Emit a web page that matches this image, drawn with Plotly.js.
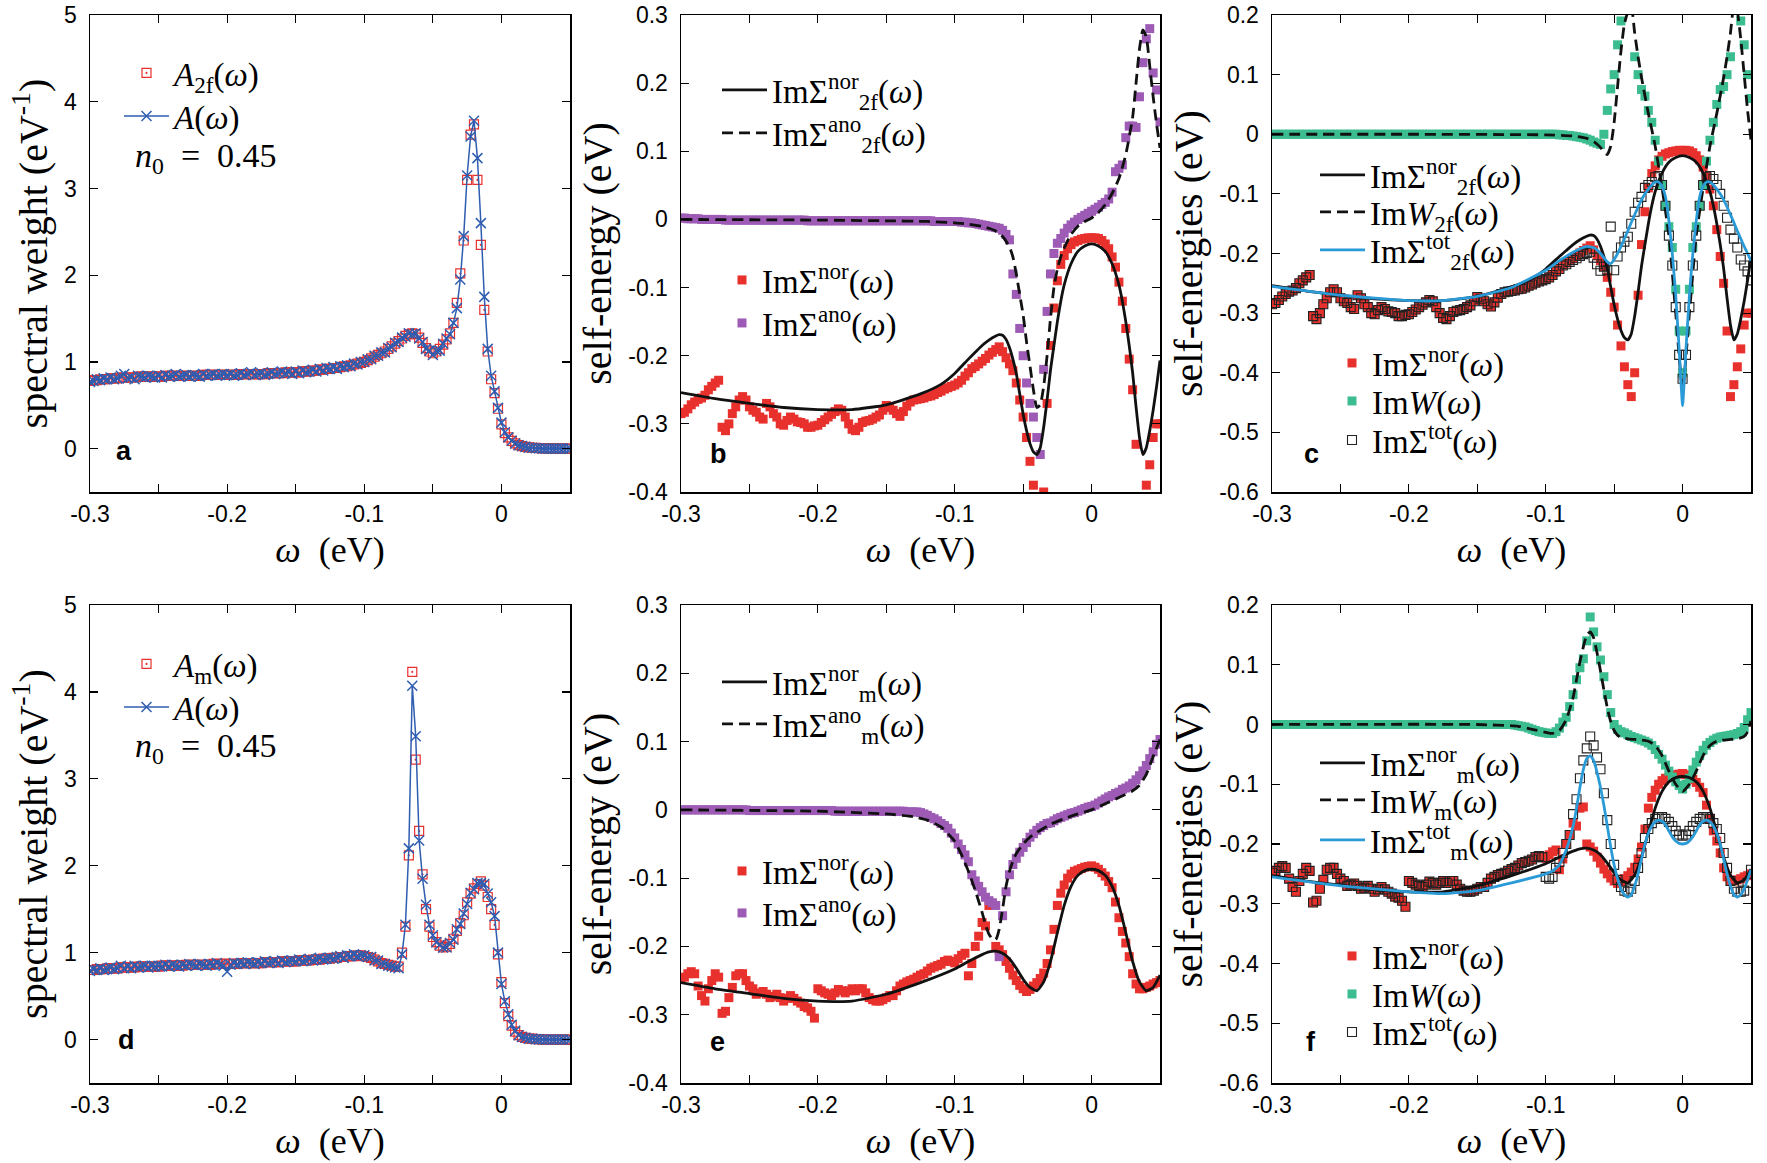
<!DOCTYPE html>
<html><head><meta charset="utf-8">
<script src="https://cdn.plot.ly/plotly-3.0.1.min.js"></script>
<style>html,body{margin:0;padding:0;background:#fff}#chart{width:1767px;height:1163px}</style>
</head><body><div id="chart"></div>
<script>
// ---------------- data ----------------
const omega = [
-0.3,-0.2975,-0.295,-0.2925,-0.29,-0.2875,-0.285,-0.2825,-0.28,-0.2775,
-0.275,-0.2725,-0.27,-0.2675,-0.265,-0.2625,-0.26,-0.2575,-0.255,-0.2525,
-0.25,-0.2475,-0.245,-0.2425,-0.24,-0.2375,-0.235,-0.2325,-0.23,-0.2275,
-0.225,-0.2225,-0.22,-0.2175,-0.215,-0.2125,-0.21,-0.2075,-0.205,-0.2025,
-0.2,-0.1975,-0.195,-0.1925,-0.19,-0.1875,-0.185,-0.1825,-0.18,-0.1775,
-0.175,-0.1725,-0.17,-0.1675,-0.165,-0.1625,-0.16,-0.1575,-0.155,-0.1525,
-0.15,-0.1475,-0.145,-0.1425,-0.14,-0.1375,-0.135,-0.1325,-0.13,-0.1275,
-0.125,-0.1225,-0.12,-0.1175,-0.115,-0.1125,-0.11,-0.1075,-0.105,-0.1025,
-0.1,-0.0975,-0.095,-0.0925,-0.09,-0.0875,-0.085,-0.0825,-0.08,-0.0775,
-0.075,-0.0725,-0.07,-0.0675,-0.065,-0.0625,-0.06,-0.0575,-0.055,-0.0525,
-0.05,-0.0475,-0.045,-0.0425,-0.04,-0.0375,-0.035,-0.0325,-0.03,-0.0275,
-0.025,-0.0225,-0.02,-0.0175,-0.015,-0.0125,-0.01,-0.0075,-0.005,-0.0025,
0,0.0025,0.005,0.0075,0.01,0.0125,0.015,0.0175,0.02,0.0225,
0.025,0.0275,0.03,0.0325,0.035,0.0375,0.04,0.0425,0.045,0.0475,
0.05];

const tickX = [-0.3,-0.2,-0.1,0];
const tickXText = ['-0.3','-0.2','-0.1','0'];
const tickXMinor = [-0.25,-0.15,-0.05];
const tickA = [0,1,2,3,4,5];
const tickAText = ['0','1','2','3','4','5'];
const tickB = [-0.4,-0.3,-0.2,-0.1,0,0.1,0.2,0.3];
const tickBText = ['-0.4','-0.3','-0.2','-0.1','0','0.1','0.2','0.3'];
const tickC = [-0.6,-0.5,-0.4,-0.3,-0.2,-0.1,0,0.1,0.2];
const tickCText = ['-0.6','-0.5','-0.4','-0.3','-0.2','-0.1','0','0.1','0.2'];

// panel a
const A2f = [
0.78,0.79,0.79,0.80,0.80,0.80,0.81,0.81,0.81,0.82,
0.82,0.82,0.82,0.82,0.83,0.83,0.83,0.83,0.83,0.83,
0.83,0.83,0.84,0.84,0.84,0.84,0.84,0.84,0.84,0.84,
0.84,0.84,0.84,0.85,0.85,0.85,0.85,0.85,0.85,0.85,
0.85,0.85,0.85,0.85,0.86,0.86,0.86,0.86,0.86,0.86,
0.86,0.86,0.87,0.87,0.87,0.87,0.87,0.88,0.88,0.88,
0.88,0.88,0.89,0.89,0.89,0.90,0.90,0.91,0.91,0.92,
0.92,0.93,0.93,0.94,0.95,0.95,0.96,0.97,0.98,0.99,
1.00,1.02,1.04,1.06,1.08,1.10,1.12,1.15,1.18,1.21,
1.24,1.27,1.30,1.32,1.33,1.32,1.28,1.22,1.16,1.12,
1.10,1.12,1.15,1.20,1.26,1.33,1.45,1.68,2.02,2.40,
3.10,3.62,3.74,3.10,2.35,1.60,1.12,0.80,0.64,0.46,
0.28,0.18,0.13,0.09,0.06,0.04,0.03,0.02,0.015,0.01,
0.01,0.005,0.004,0.003,0.002,0.002,0.001,0.001,0.001,0.0,
0.0];
const Aa = [
0.77,0.78,0.80,0.79,0.81,0.80,0.82,0.80,0.81,0.84,
0.86,0.81,0.82,0.80,0.84,0.83,0.82,0.84,0.83,0.82,
0.84,0.82,0.85,0.83,0.84,0.86,0.83,0.84,0.85,0.83,
0.85,0.84,0.83,0.86,0.84,0.85,0.86,0.84,0.85,0.86,
0.85,0.86,0.84,0.85,0.87,0.85,0.86,0.88,0.85,0.86,
0.87,0.85,0.86,0.88,0.86,0.87,0.89,0.87,0.88,0.86,
0.89,0.87,0.90,0.88,0.89,0.91,0.89,0.92,0.90,0.93,
0.92,0.94,0.92,0.95,0.94,0.96,0.95,0.98,0.97,1.00,
1.00,1.03,1.03,1.07,1.07,1.11,1.11,1.16,1.17,1.22,
1.23,1.28,1.29,1.33,1.32,1.33,1.27,1.23,1.15,1.13,
1.08,1.13,1.13,1.21,1.27,1.32,1.45,1.62,1.95,2.45,
3.15,3.60,3.78,3.35,2.60,1.75,1.15,0.84,0.66,0.47,
0.30,0.19,0.13,0.09,0.06,0.04,0.03,0.02,0.01,0.01,
0.005,0.005,0.0,0.0,0.0,0.0,0.0,0.0,0.0,0.0,
0.0];

// panel d
const Am = [
0.80,0.80,0.81,0.81,0.81,0.82,0.82,0.82,0.82,0.83,
0.83,0.83,0.83,0.83,0.84,0.84,0.84,0.84,0.84,0.84,
0.84,0.85,0.85,0.85,0.85,0.85,0.85,0.85,0.86,0.86,
0.86,0.86,0.86,0.86,0.86,0.86,0.87,0.87,0.87,0.87,
0.87,0.87,0.87,0.87,0.88,0.88,0.88,0.88,0.88,0.88,
0.88,0.89,0.89,0.89,0.89,0.89,0.90,0.90,0.90,0.90,
0.90,0.91,0.91,0.91,0.91,0.92,0.92,0.92,0.93,0.93,
0.93,0.94,0.94,0.95,0.95,0.96,0.96,0.96,0.97,0.97,
0.96,0.95,0.94,0.92,0.90,0.88,0.87,0.86,0.85,0.84,
0.84,1.00,1.30,2.12,4.23,3.22,2.40,1.90,1.50,1.30,
1.18,1.12,1.08,1.06,1.07,1.10,1.16,1.25,1.34,1.43,
1.58,1.68,1.74,1.79,1.82,1.77,1.64,1.50,1.32,0.98,
0.66,0.42,0.27,0.16,0.09,0.05,0.03,0.02,0.01,0.01,
0.005,0.005,0.0,0.0,0.0,0.0,0.0,0.0,0.0,0.0,
0.0];
const Ad = [
0.79,0.81,0.80,0.82,0.80,0.81,0.83,0.81,0.82,0.85,
0.82,0.84,0.82,0.85,0.83,0.84,0.85,0.83,0.85,0.84,
0.85,0.84,0.86,0.84,0.86,0.85,0.84,0.86,0.85,0.87,
0.86,0.85,0.87,0.86,0.85,0.87,0.86,0.88,0.86,0.85,
0.78,0.86,0.88,0.87,0.88,0.87,0.89,0.88,0.87,0.89,
0.88,0.90,0.88,0.89,0.90,0.88,0.91,0.89,0.90,0.91,
0.90,0.92,0.90,0.91,0.93,0.91,0.92,0.94,0.92,0.93,
0.94,0.93,0.95,0.96,0.94,0.97,0.96,0.98,0.96,0.97,
0.97,0.95,0.95,0.91,0.91,0.87,0.87,0.85,0.84,0.83,
0.82,0.98,1.32,2.20,4.07,3.49,2.29,1.85,1.55,1.32,
1.20,1.12,1.09,1.06,1.06,1.11,1.15,1.27,1.33,1.45,
1.56,1.69,1.73,1.80,1.80,1.79,1.68,1.58,1.42,1.00,
0.64,0.44,0.29,0.17,0.10,0.05,0.03,0.02,0.01,0.01,
0.005,0.0,0.0,0.0,0.0,0.0,0.0,0.0,0.0,0.0,
0.0];

// panels b, c (2f)
const imSigNor2f = [
-0.285,-0.283,-0.278,-0.272,-0.268,-0.264,-0.262,-0.258,-0.25,-0.245,
-0.24,-0.236,-0.305,-0.31,-0.3,-0.285,-0.275,-0.265,-0.26,-0.265,
-0.275,-0.28,-0.283,-0.29,-0.293,-0.27,-0.275,-0.285,-0.29,-0.3,
-0.302,-0.295,-0.29,-0.293,-0.297,-0.298,-0.3,-0.305,-0.305,-0.303,
-0.302,-0.298,-0.294,-0.29,-0.286,-0.282,-0.278,-0.28,-0.29,-0.3,
-0.308,-0.31,-0.305,-0.298,-0.296,-0.295,-0.293,-0.29,-0.287,-0.28,
-0.273,-0.276,-0.28,-0.285,-0.289,-0.282,-0.274,-0.268,-0.265,-0.264,
-0.263,-0.262,-0.26,-0.259,-0.257,-0.254,-0.252,-0.249,-0.247,-0.245,
-0.243,-0.24,-0.236,-0.23,-0.225,-0.219,-0.216,-0.212,-0.208,-0.204,
-0.199,-0.195,-0.191,-0.187,-0.194,-0.203,-0.212,-0.222,-0.24,-0.265,
-0.29,-0.32,-0.355,-0.39,-0.42,-0.44,-0.4,-0.27,-0.185,-0.13,
-0.09,-0.066,-0.053,-0.043,-0.037,-0.033,-0.031,-0.029,-0.028,-0.027,
-0.027,-0.027,-0.028,-0.031,-0.036,-0.043,-0.055,-0.07,-0.092,-0.12,
-0.16,-0.205,-0.25,-0.33,-0.44,-0.42,-0.39,-0.36,-0.32,-0.3,
-0.3];
const imSigAno2f = [
0.002,0.002,0.001,0.001,0.001,0.001,0.0,0.0,0.0,0.0,
0.0,0.0,0.0,-0.001,-0.001,-0.001,-0.001,-0.001,-0.001,-0.001,
-0.001,-0.001,-0.001,-0.001,-0.001,-0.001,-0.001,-0.001,-0.001,-0.001,
-0.001,-0.001,-0.001,-0.001,-0.001,-0.001,-0.001,-0.002,-0.002,-0.002,
-0.002,-0.002,-0.002,-0.002,-0.002,-0.002,-0.002,-0.002,-0.002,-0.002,
-0.002,-0.002,-0.002,-0.002,-0.002,-0.002,-0.002,-0.002,-0.002,-0.002,
-0.002,-0.002,-0.002,-0.002,-0.002,-0.002,-0.002,-0.002,-0.002,-0.002,
-0.002,-0.002,-0.002,-0.002,-0.003,-0.003,-0.003,-0.003,-0.003,-0.003,
-0.003,-0.003,-0.004,-0.004,-0.005,-0.005,-0.006,-0.007,-0.008,-0.009,
-0.01,-0.011,-0.012,-0.013,-0.016,-0.022,-0.03,-0.08,-0.11,-0.16,
-0.2,-0.24,-0.27,-0.29,-0.32,-0.345,-0.22,-0.135,-0.08,-0.05,
-0.035,-0.028,-0.02,-0.013,-0.008,-0.004,0.0,0.003,0.006,0.009,
0.012,0.015,0.018,0.022,0.025,0.03,0.04,0.07,0.075,0.08,
0.12,0.137,0.137,0.135,0.18,0.23,0.265,0.28,0.215,0.19,
0.143];
const imW2f = [
0,0,0,0,0,0,0,0,0,0,
0,0,0,0,0,0,0,0,0,0,
0,0,0,0,0,0,0,0,0,0,
0,0,0,0,0,0,0,0,0,0,
0,0,0,0,0,0,0,0,0,0,
0,0,0,0,0,0,0,0,0,0,
0,0,0,0,0,0,0,0,0,0,
0,0,0,0,0,0,0,0,0,0,
0,0,0,0,-0.001,-0.001,-0.002,-0.002,-0.003,-0.004,
-0.005,-0.006,-0.008,-0.01,-0.013,-0.015,-0.017,0.0,0.04,0.076,
0.1,0.15,0.19,0.24,0.26,0.22,0.13,0.1,0.075,0.064,
0.04,0.02,-0.01,-0.045,-0.085,-0.12,-0.155,-0.19,-0.26,-0.33,
-0.4,-0.33,-0.26,-0.19,-0.155,-0.12,-0.085,-0.045,-0.01,0.02,
0.05,0.075,0.08,0.1,0.13,0.22,0.26,0.19,0.15,0.1,
0.06];
const imSigTot2f = [
-0.285,-0.283,-0.278,-0.272,-0.268,-0.264,-0.262,-0.258,-0.25,-0.245,
-0.24,-0.236,-0.305,-0.31,-0.3,-0.285,-0.275,-0.265,-0.26,-0.265,
-0.275,-0.28,-0.283,-0.29,-0.293,-0.27,-0.275,-0.285,-0.29,-0.3,
-0.302,-0.295,-0.29,-0.293,-0.297,-0.298,-0.3,-0.305,-0.305,-0.303,
-0.302,-0.298,-0.294,-0.29,-0.286,-0.282,-0.278,-0.28,-0.29,-0.3,
-0.308,-0.31,-0.305,-0.298,-0.296,-0.295,-0.293,-0.29,-0.287,-0.28,
-0.273,-0.276,-0.28,-0.285,-0.289,-0.282,-0.274,-0.268,-0.265,-0.264,
-0.263,-0.262,-0.26,-0.259,-0.257,-0.254,-0.252,-0.249,-0.247,-0.245,
-0.243,-0.24,-0.236,-0.23,-0.226,-0.22,-0.218,-0.214,-0.211,-0.208,
-0.204,-0.201,-0.199,-0.197,-0.207,-0.218,-0.229,-0.222,-0.228,-0.155,
-0.228,-0.205,-0.19,-0.18,-0.172,-0.15,-0.13,-0.115,-0.105,-0.09,
-0.085,-0.08,-0.072,-0.07,-0.085,-0.12,-0.17,-0.22,-0.29,-0.37,
-0.41,-0.37,-0.29,-0.22,-0.17,-0.12,-0.085,-0.072,-0.07,-0.075,
-0.085,-0.1,-0.12,-0.14,-0.16,-0.175,-0.19,-0.21,-0.22,-0.23,
-0.245];

// panels e, f (m)
const imSigNorM = [
-0.248,-0.245,-0.24,-0.237,-0.24,-0.258,-0.272,-0.28,-0.262,-0.25,
-0.24,-0.245,-0.298,-0.295,-0.275,-0.26,-0.243,-0.24,-0.24,-0.25,
-0.258,-0.262,-0.27,-0.268,-0.266,-0.27,-0.275,-0.273,-0.27,-0.275,
-0.28,-0.276,-0.272,-0.276,-0.28,-0.283,-0.288,-0.29,-0.295,-0.305,
-0.262,-0.265,-0.268,-0.27,-0.272,-0.268,-0.263,-0.265,-0.268,-0.265,
-0.262,-0.265,-0.262,-0.262,-0.268,-0.275,-0.278,-0.28,-0.28,-0.278,
-0.275,-0.272,-0.272,-0.265,-0.258,-0.255,-0.252,-0.25,-0.248,-0.245,
-0.242,-0.24,-0.236,-0.232,-0.23,-0.228,-0.226,-0.222,-0.22,-0.222,
-0.224,-0.218,-0.213,-0.21,-0.243,-0.225,-0.2,-0.185,-0.165,-0.17,
-0.14,-0.138,-0.2,-0.205,-0.212,-0.222,-0.232,-0.242,-0.25,-0.257,
-0.262,-0.266,-0.263,-0.258,-0.253,-0.247,-0.239,-0.225,-0.205,-0.175,
-0.14,-0.122,-0.11,-0.1,-0.094,-0.09,-0.088,-0.086,-0.084,-0.083,
-0.082,-0.084,-0.087,-0.092,-0.097,-0.105,-0.114,-0.135,-0.158,-0.178,
-0.195,-0.215,-0.24,-0.255,-0.262,-0.262,-0.26,-0.258,-0.255,-0.253,
-0.25];
const imSigAnoM = [
0,0,0,0,0,0,0,0,0,0,
0,0,0,0,0,0,0,0,0,0,
-0.001,-0.001,-0.001,-0.001,-0.001,-0.001,-0.001,-0.001,-0.001,-0.001,
-0.001,-0.001,-0.001,-0.001,-0.001,-0.001,-0.001,-0.001,-0.001,-0.001,
-0.001,-0.001,-0.001,-0.001,-0.001,-0.002,-0.002,-0.002,-0.002,-0.002,
-0.002,-0.002,-0.002,-0.002,-0.002,-0.002,-0.002,-0.002,-0.002,-0.002,
-0.002,-0.002,-0.002,-0.002,-0.002,-0.002,-0.003,-0.003,-0.003,-0.003,
-0.004,-0.006,-0.008,-0.011,-0.013,-0.016,-0.02,-0.023,-0.027,-0.034,
-0.041,-0.05,-0.058,-0.066,-0.076,-0.095,-0.104,-0.112,-0.12,-0.128,
-0.133,-0.136,-0.14,-0.215,-0.155,-0.12,-0.095,-0.08,-0.071,-0.062,
-0.055,-0.048,-0.04,-0.035,-0.03,-0.026,-0.023,-0.02,-0.019,-0.016,
-0.013,-0.011,-0.009,-0.007,-0.005,-0.004,-0.002,0.0,0.002,0.004,
0.005,0.007,0.01,0.013,0.016,0.019,0.021,0.024,0.026,0.03,
0.032,0.035,0.039,0.044,0.05,0.057,0.065,0.075,0.085,0.096,
0.103];
const imWM = [
0,0,0,0,0,0,0,0,0,0,
0,0,0,0,0,0,0,0,0,0,
0,0,0,0,0,0,0,0,0,0,
0,0,0,0,0,0,0,0,0,0,
0,0,0,0,0,0,0,0,0,0,
0,0,0,0,0,0,0,0,0,0,
0,0,0,0,0,0,0,0,0,0,
0.0,-0.001,-0.002,-0.003,-0.004,-0.006,-0.008,-0.01,-0.012,-0.013,
-0.014,-0.015,-0.015,-0.012,-0.006,0.004,0.012,0.03,0.05,0.075,
0.095,0.11,0.14,0.18,0.155,0.13,0.108,0.08,0.05,0.02,
0.0,-0.008,-0.012,-0.014,-0.017,-0.02,-0.022,-0.024,-0.026,-0.028,
-0.031,-0.035,-0.042,-0.05,-0.058,-0.068,-0.078,-0.088,-0.096,-0.102,
-0.108,-0.1,-0.09,-0.076,-0.063,-0.052,-0.043,-0.035,-0.03,-0.026,
-0.023,-0.021,-0.02,-0.019,-0.018,-0.017,-0.015,-0.012,-0.005,0.008,
0.02];
const imSigTotM = [
-0.248,-0.245,-0.24,-0.237,-0.24,-0.258,-0.272,-0.28,-0.262,-0.25,
-0.24,-0.245,-0.298,-0.295,-0.275,-0.26,-0.243,-0.24,-0.24,-0.25,
-0.258,-0.262,-0.27,-0.268,-0.266,-0.27,-0.275,-0.273,-0.27,-0.275,
-0.28,-0.276,-0.272,-0.276,-0.28,-0.283,-0.288,-0.29,-0.295,-0.305,
-0.262,-0.265,-0.268,-0.27,-0.272,-0.268,-0.263,-0.265,-0.268,-0.265,
-0.262,-0.265,-0.262,-0.262,-0.268,-0.275,-0.278,-0.28,-0.28,-0.278,
-0.275,-0.272,-0.272,-0.265,-0.258,-0.255,-0.252,-0.25,-0.248,-0.245,
-0.242,-0.24,-0.236,-0.232,-0.23,-0.228,-0.226,-0.222,-0.22,-0.222,
-0.255,-0.258,-0.255,-0.24,-0.23,-0.215,-0.2,-0.185,-0.15,-0.125,
-0.09,-0.06,-0.04,-0.02,-0.035,-0.055,-0.075,-0.115,-0.16,-0.2,
-0.235,-0.26,-0.272,-0.278,-0.28,-0.275,-0.262,-0.24,-0.215,-0.19,
-0.175,-0.165,-0.158,-0.155,-0.155,-0.158,-0.163,-0.17,-0.178,-0.184,
-0.186,-0.184,-0.178,-0.17,-0.163,-0.158,-0.155,-0.155,-0.158,-0.165,
-0.175,-0.19,-0.215,-0.24,-0.262,-0.275,-0.28,-0.28,-0.278,-0.265,
-0.243];

// theory curves
const lineNor2fX = [-0.3,-0.275,-0.25,-0.225,-0.2,-0.175,-0.15,-0.125,-0.11,-0.1,-0.09,-0.085,-0.08,-0.075,-0.07,-0.0675,-0.065,-0.0625,-0.06,-0.0575,-0.055,-0.0525,-0.05,-0.0475,-0.045,-0.0425,-0.04,-0.0375,-0.035,-0.0325,-0.03,-0.0275,-0.025,-0.0225,-0.02,-0.015,-0.01,-0.005,0,0.005,0.01,0.015,0.02,0.0225,0.025,0.0275,0.03,0.0325,0.035,0.0375,0.04,0.0425,0.045,0.0475,0.05];
const lineNor2fY = [-0.254,-0.263,-0.27,-0.276,-0.279,-0.279,-0.272,-0.256,-0.242,-0.226,-0.205,-0.195,-0.185,-0.177,-0.171,-0.169,-0.17,-0.176,-0.188,-0.205,-0.226,-0.256,-0.286,-0.31,-0.329,-0.341,-0.345,-0.335,-0.305,-0.265,-0.221,-0.185,-0.15,-0.12,-0.096,-0.065,-0.047,-0.039,-0.036,-0.039,-0.047,-0.065,-0.096,-0.12,-0.15,-0.185,-0.225,-0.275,-0.32,-0.345,-0.335,-0.31,-0.28,-0.245,-0.207];
const lineAno2fX = [-0.3,-0.2,-0.15,-0.12,-0.1,-0.09,-0.08,-0.075,-0.07,-0.065,-0.06,-0.0575,-0.055,-0.0525,-0.05,-0.0475,-0.045,-0.0425,-0.04,-0.0375,-0.035,-0.0325,-0.03,-0.0275,-0.025,-0.0225,-0.02,-0.015,-0.01,-0.005,0,0.005,0.01,0.015,0.02,0.025,0.03,0.0325,0.035,0.0375,0.04,0.0425,0.045,0.0475,0.05];
const lineAno2fY = [0,-0.001,-0.002,-0.003,-0.005,-0.007,-0.01,-0.013,-0.017,-0.025,-0.04,-0.055,-0.08,-0.11,-0.14,-0.18,-0.215,-0.25,-0.276,-0.272,-0.245,-0.2,-0.145,-0.1,-0.073,-0.055,-0.042,-0.022,-0.01,-0.003,0.002,0.01,0.022,0.038,0.06,0.095,0.15,0.2,0.25,0.278,0.268,0.225,0.18,0.14,0.105];
const lineW2fX = [-0.3,-0.2,-0.1,-0.08,-0.07,-0.065,-0.06,-0.0575,-0.055,-0.0525,-0.05,-0.0475,-0.045,-0.0425,-0.04,-0.0375,-0.035,-0.0325,-0.03,-0.025,-0.02,-0.015,-0.01,-0.005,0,0.005,0.01,0.015,0.02,0.025,0.03,0.0325,0.035,0.0375,0.04,0.0425,0.045,0.0475,0.05];
const lineW2fY = [0,0,-0.001,-0.003,-0.007,-0.012,-0.022,-0.03,-0.034,-0.02,0.02,0.08,0.14,0.185,0.205,0.215,0.17,0.13,0.095,0.035,-0.02,-0.09,-0.17,-0.3,-0.43,-0.3,-0.17,-0.09,-0.02,0.035,0.095,0.13,0.17,0.215,0.205,0.16,0.1,0.04,-0.01];
const lineTot2fX = [-0.3,-0.25,-0.2,-0.175,-0.15,-0.125,-0.1,-0.09,-0.08,-0.075,-0.07,-0.065,-0.0625,-0.06,-0.0575,-0.055,-0.0525,-0.05,-0.0475,-0.045,-0.0425,-0.04,-0.0375,-0.035,-0.0325,-0.03,-0.0275,-0.025,-0.0225,-0.02,-0.0175,-0.015,-0.0125,-0.01,-0.0075,-0.005,-0.0025,0,0.0025,0.005,0.0075,0.01,0.0125,0.015,0.0175,0.02,0.0225,0.025,0.0275,0.03,0.0325,0.035,0.0375,0.04,0.0425,0.045,0.0475,0.05];
const lineTot2fY = [-0.255,-0.27,-0.279,-0.279,-0.272,-0.257,-0.228,-0.212,-0.198,-0.192,-0.188,-0.19,-0.194,-0.2,-0.207,-0.214,-0.217,-0.21,-0.2,-0.188,-0.175,-0.162,-0.148,-0.135,-0.122,-0.11,-0.1,-0.092,-0.085,-0.08,-0.08,-0.087,-0.105,-0.145,-0.2,-0.27,-0.36,-0.455,-0.36,-0.27,-0.2,-0.145,-0.105,-0.087,-0.08,-0.08,-0.085,-0.092,-0.1,-0.11,-0.122,-0.135,-0.148,-0.162,-0.175,-0.188,-0.2,-0.212];
const lineNorMX = [-0.3,-0.275,-0.25,-0.225,-0.2,-0.175,-0.15,-0.125,-0.1,-0.09,-0.08,-0.075,-0.07,-0.065,-0.06,-0.055,-0.05,-0.045,-0.04,-0.035,-0.03,-0.025,-0.02,-0.015,-0.01,-0.005,0,0.005,0.01,0.015,0.02,0.025,0.03,0.035,0.04,0.045,0.05];
const lineNorMY = [-0.253,-0.262,-0.269,-0.276,-0.28,-0.28,-0.27,-0.253,-0.233,-0.222,-0.212,-0.208,-0.207,-0.21,-0.218,-0.232,-0.248,-0.26,-0.265,-0.252,-0.222,-0.18,-0.14,-0.112,-0.096,-0.089,-0.087,-0.089,-0.096,-0.112,-0.14,-0.18,-0.222,-0.252,-0.265,-0.26,-0.242];
const lineAnoMX = [-0.3,-0.2,-0.15,-0.13,-0.12,-0.11,-0.1,-0.095,-0.09,-0.085,-0.08,-0.0775,-0.075,-0.0725,-0.07,-0.0675,-0.065,-0.0625,-0.06,-0.0575,-0.055,-0.05,-0.045,-0.04,-0.035,-0.03,-0.02,-0.01,0,0.01,0.02,0.03,0.035,0.04,0.045,0.05];
const lineAnoMY = [0,-0.002,-0.006,-0.01,-0.015,-0.025,-0.046,-0.066,-0.09,-0.118,-0.15,-0.168,-0.182,-0.189,-0.19,-0.175,-0.145,-0.112,-0.09,-0.075,-0.064,-0.05,-0.04,-0.033,-0.027,-0.021,-0.013,-0.006,0,0.009,0.018,0.028,0.036,0.052,0.078,0.103];
const lineWMX = [-0.3,-0.15,-0.12,-0.11,-0.1,-0.095,-0.09,-0.085,-0.08,-0.0775,-0.075,-0.0725,-0.07,-0.0675,-0.065,-0.0625,-0.06,-0.0575,-0.055,-0.0525,-0.05,-0.0475,-0.045,-0.04,-0.035,-0.03,-0.025,-0.02,-0.015,-0.01,-0.005,0,0.005,0.01,0.015,0.02,0.025,0.03,0.035,0.04,0.045,0.0475,0.05];
const lineWMY = [0,0,-0.003,-0.008,-0.013,-0.015,-0.01,0.008,0.045,0.075,0.105,0.13,0.15,0.155,0.145,0.12,0.09,0.058,0.028,0.005,-0.01,-0.018,-0.022,-0.024,-0.025,-0.026,-0.028,-0.035,-0.052,-0.078,-0.1,-0.112,-0.1,-0.078,-0.052,-0.035,-0.028,-0.026,-0.025,-0.024,-0.02,-0.012,0.006];
const lineTotMX = [-0.3,-0.25,-0.2,-0.175,-0.15,-0.125,-0.1,-0.095,-0.09,-0.085,-0.08,-0.0775,-0.075,-0.0725,-0.07,-0.0675,-0.065,-0.0625,-0.06,-0.0575,-0.055,-0.0525,-0.05,-0.0475,-0.045,-0.0425,-0.04,-0.0375,-0.035,-0.0325,-0.03,-0.0275,-0.025,-0.0225,-0.02,-0.0175,-0.015,-0.0125,-0.01,-0.0075,-0.005,-0.0025,0,0.0025,0.005,0.0075,0.01,0.0125,0.015,0.0175,0.02,0.0225,0.025,0.0275,0.03,0.0325,0.035,0.0375,0.04,0.0425,0.045,0.0475,0.05];
const lineTotMY = [-0.255,-0.27,-0.28,-0.283,-0.278,-0.265,-0.25,-0.245,-0.235,-0.21,-0.17,-0.14,-0.105,-0.075,-0.057,-0.052,-0.06,-0.08,-0.105,-0.135,-0.17,-0.205,-0.235,-0.258,-0.275,-0.285,-0.289,-0.285,-0.27,-0.25,-0.225,-0.2,-0.182,-0.17,-0.163,-0.16,-0.162,-0.168,-0.178,-0.188,-0.195,-0.199,-0.2,-0.199,-0.195,-0.188,-0.178,-0.168,-0.162,-0.16,-0.163,-0.17,-0.182,-0.2,-0.225,-0.25,-0.27,-0.285,-0.289,-0.285,-0.275,-0.26,-0.243];

// ---------------- style ----------------
const RED = '#e8312d', PURPLE = '#9d5bb5', GREEN = '#3cbd90', SKY = '#2b9bd8', NAVY = '#2f5db0', BLACK = '#111';
const W = 1767, H = 1163;
const px = v => v / W, py = v => 1 - v / H;
const SERIF = 'Liberation Serif, Times New Roman, serif';
const SANS = 'Liberation Sans, Arial, sans-serif';

function xax(dom, anchor) {
  return {domain: dom, anchor: anchor, range: [-0.3, 0.05], tickmode: 'array', tickvals: tickX, ticktext: tickXText,
    ticks: 'inside', ticklen: 8, tickwidth: 1.2, tickcolor: '#000', showline: true, linecolor: '#000', linewidth: 1.5,
    mirror: 'ticks', showgrid: false, zeroline: false, ticklabelstandoff: 1,
    minor: {tickmode: 'array', tickvals: tickXMinor, ticks: 'inside', ticklen: 8, tickwidth: 1.2, tickcolor: '#000', showgrid: false},
    tickfont: {family: SANS, size: 23, color: '#000'},
    title: {text: '<i>ω</i>\u2002(eV)', font: {family: SERIF, size: 36, color: '#000'}, standoff: 10}};
}
function yax(dom, anchor, range, vals, text, title) {
  return {domain: dom, anchor: anchor, range: range, tickmode: 'array', tickvals: vals, ticktext: text,
    ticks: 'inside', ticklen: 8, tickwidth: 1.2, tickcolor: '#000', showline: true, linecolor: '#000', linewidth: 1.5,
    mirror: 'ticks', showgrid: false, zeroline: false, ticklabelstandoff: 7,
    tickfont: {family: SANS, size: 23, color: '#000'},
    title: {text: title, font: {family: SERIF, size: 40, color: '#000'}, standoff: 4}};
}

const traces = [];
const legends = {};
let legendCount = 0;
// each legend entry gets its own legend box so that rows can be placed like the original
function add(base, extra, cx, cy, wide) {
  legendCount += 1;
  const key = legendCount === 1 ? 'legend' : 'legend' + legendCount;
  const iw = wide ? 45 : 30;
  legends[key] = {x: px(cx - (wide ? 27 : 20)), y: py(cy), xanchor: 'left', yanchor: 'middle',
    bgcolor: 'rgba(0,0,0,0)', borderwidth: 0, font: {family: SERIF, size: 33, color: '#000'},
    itemwidth: iw, tracegroupgap: 0};
  traces.push(Object.assign({}, base, extra, {legend: key}));
}
const openDot = {mode: 'markers', marker: {symbol: 'square-open-dot', size: 9, color: RED, line: {width: 1.2, color: RED}}};
const navyX = {mode: 'lines+markers', line: {color: NAVY, width: 1.5}, marker: {symbol: 'x-thin', size: 10, color: NAVY, line: {width: 1.5, color: NAVY}}};
const sq = c => ({mode: 'markers', marker: {symbol: 'square', size: 9, color: c, line: {width: 0}}});
const openSq = {mode: 'markers', marker: {symbol: 'square-open', size: 9, color: '#222', line: {width: 1.1, color: '#222'}}};
const solid = {mode: 'lines', line: {color: BLACK, width: 2.8, shape: 'spline', smoothing: 0.5}};
const dashed = {mode: 'lines', line: {color: BLACK, width: 2.8, dash: '11px,6px', shape: 'spline', smoothing: 0.5}};
const skyLine = {mode: 'lines', line: {color: SKY, width: 2.8, shape: 'spline', smoothing: 0.4}};

// panel a
add(openDot, {x: omega, y: A2f, xaxis: 'x', yaxis: 'y', name: '<i>A</i><sub>2f</sub>(<i>ω</i>)'}, 146, 73, true);
add(navyX, {x: omega, y: Aa, xaxis: 'x', yaxis: 'y', name: '<i>A</i>(<i>ω</i>)'}, 146, 116, true);
// panel b
add(sq(RED), {x: omega, y: imSigNor2f, xaxis: 'x2', yaxis: 'y2', name: 'ImΣ<sup>nor</sup>(<i>ω</i>)'}, 742, 280, false);
add(sq(PURPLE), {x: omega, y: imSigAno2f, xaxis: 'x2', yaxis: 'y2', name: 'ImΣ<sup>ano</sup>(<i>ω</i>)'}, 742, 323, false);
add(solid, {x: lineNor2fX, y: lineNor2fY, xaxis: 'x2', yaxis: 'y2', name: 'ImΣ<sup>nor</sup><sub>2f</sub>(<i>ω</i>)'}, 744, 90, true);
add(dashed, {x: lineAno2fX, y: lineAno2fY, xaxis: 'x2', yaxis: 'y2', name: 'ImΣ<sup>ano</sup><sub>2f</sub>(<i>ω</i>)'}, 744, 133, true);
// panel c
add(sq(RED), {x: omega, y: imSigNor2f, xaxis: 'x3', yaxis: 'y3', name: 'ImΣ<sup>nor</sup>(<i>ω</i>)'}, 1352, 363, false);
add(sq(GREEN), {x: omega, y: imW2f, xaxis: 'x3', yaxis: 'y3', name: 'Im<i>W</i>(<i>ω</i>)'}, 1352, 401, false);
add(openSq, {x: omega, y: imSigTot2f, xaxis: 'x3', yaxis: 'y3', name: 'ImΣ<sup>tot</sup>(<i>ω</i>)'}, 1352, 440, false);
add(solid, {x: lineNor2fX, y: lineNor2fY, xaxis: 'x3', yaxis: 'y3', name: 'ImΣ<sup>nor</sup><sub>2f</sub>(<i>ω</i>)'}, 1342, 175, true);
add(dashed, {x: lineW2fX, y: lineW2fY, xaxis: 'x3', yaxis: 'y3', name: 'Im<i>W</i><sub>2f</sub>(<i>ω</i>)'}, 1342, 212, true);
add(skyLine, {x: lineTot2fX, y: lineTot2fY, xaxis: 'x3', yaxis: 'y3', name: 'ImΣ<sup>tot</sup><sub>2f</sub>(<i>ω</i>)'}, 1342, 250, true);
// panel d
add(openDot, {x: omega, y: Am, xaxis: 'x4', yaxis: 'y4', name: '<i>A</i><sub>m</sub>(<i>ω</i>)'}, 146, 664, true);
add(navyX, {x: omega, y: Ad, xaxis: 'x4', yaxis: 'y4', name: '<i>A</i>(<i>ω</i>)'}, 146, 707, true);
// panel e
add(sq(RED), {x: omega, y: imSigNorM, xaxis: 'x5', yaxis: 'y5', name: 'ImΣ<sup>nor</sup>(<i>ω</i>)'}, 742, 871, false);
add(sq(PURPLE), {x: omega, y: imSigAnoM, xaxis: 'x5', yaxis: 'y5', name: 'ImΣ<sup>ano</sup>(<i>ω</i>)'}, 742, 913, false);
add(solid, {x: lineNorMX, y: lineNorMY, xaxis: 'x5', yaxis: 'y5', name: 'ImΣ<sup>nor</sup><sub>m</sub>(<i>ω</i>)'}, 744, 682, true);
add(dashed, {x: lineAnoMX, y: lineAnoMY, xaxis: 'x5', yaxis: 'y5', name: 'ImΣ<sup>ano</sup><sub>m</sub>(<i>ω</i>)'}, 744, 724, true);
// panel f
add(sq(RED), {x: omega, y: imSigNorM, xaxis: 'x6', yaxis: 'y6', name: 'ImΣ<sup>nor</sup>(<i>ω</i>)'}, 1352, 956, false);
add(sq(GREEN), {x: omega, y: imWM, xaxis: 'x6', yaxis: 'y6', name: 'Im<i>W</i>(<i>ω</i>)'}, 1352, 994, false);
add(openSq, {x: omega, y: imSigTotM, xaxis: 'x6', yaxis: 'y6', name: 'ImΣ<sup>tot</sup>(<i>ω</i>)'}, 1352, 1032, false);
add(solid, {x: lineNorMX, y: lineNorMY, xaxis: 'x6', yaxis: 'y6', name: 'ImΣ<sup>nor</sup><sub>m</sub>(<i>ω</i>)'}, 1342, 763, true);
add(dashed, {x: lineWMX, y: lineWMY, xaxis: 'x6', yaxis: 'y6', name: 'Im<i>W</i><sub>m</sub>(<i>ω</i>)'}, 1342, 800, true);
add(skyLine, {x: lineTotMX, y: lineTotMY, xaxis: 'x6', yaxis: 'y6', name: 'ImΣ<sup>tot</sup><sub>m</sub>(<i>ω</i>)'}, 1342, 840, true);

const colA = [px(90), px(570)], colB = [px(681), px(1160)], colC = [px(1272), px(1751)];
const rowT = [py(492), py(15)], rowB = [py(1083), py(605)];

function label(t, x, y) {
  return {text: '<b>' + t + '</b>', x: px(x), y: py(y), xref: 'paper', yref: 'paper', showarrow: false,
    xanchor: 'center', yanchor: 'middle', font: {family: SANS, size: 27, color: '#000'}};
}
function n0(y) {
  return {text: '<i>n</i><sub>0</sub>\u2002=\u20020.45', x: px(133), y: py(y), xref: 'paper', yref: 'paper', showarrow: false,
    xanchor: 'left', yanchor: 'middle', font: {family: SERIF, size: 34, color: '#000'}};
}

const layout = Object.assign({
  width: W, height: H, margin: {l: 0, r: 0, t: 0, b: 0}, paper_bgcolor: '#fff', plot_bgcolor: '#fff',
  showlegend: true, hovermode: false, font: {family: SANS, color: '#000'},
  xaxis: xax(colA, 'y'), yaxis: yax(rowT, 'x', [-0.5, 5], tickA, tickAText, 'spectral weight (eV<sup>-1</sup>)'),
  xaxis2: xax(colB, 'y2'), yaxis2: yax(rowT, 'x2', [-0.4, 0.3], tickB, tickBText, 'self-energy (eV)'),
  xaxis3: xax(colC, 'y3'), yaxis3: yax(rowT, 'x3', [-0.6, 0.2], tickC, tickCText, 'self-energies (eV)'),
  xaxis4: xax(colA, 'y4'), yaxis4: yax(rowB, 'x4', [-0.5, 5], tickA, tickAText, 'spectral weight (eV<sup>-1</sup>)'),
  xaxis5: xax(colB, 'y5'), yaxis5: yax(rowB, 'x5', [-0.4, 0.3], tickB, tickBText, 'self-energy (eV)'),
  xaxis6: xax(colC, 'y6'), yaxis6: yax(rowB, 'x6', [-0.6, 0.2], tickC, tickCText, 'self-energies (eV)'),
  annotations: [
    label('a', 124, 451), label('b', 718, 454), label('c', 1311, 454),
    label('d', 126, 1040), label('e', 717, 1042), label('f', 1311, 1042),
    n0(158), n0(748)
  ]
}, legends);

Plotly.newPlot('chart', traces, layout, {staticPlot: true, displayModeBar: false});
</script></body></html>
